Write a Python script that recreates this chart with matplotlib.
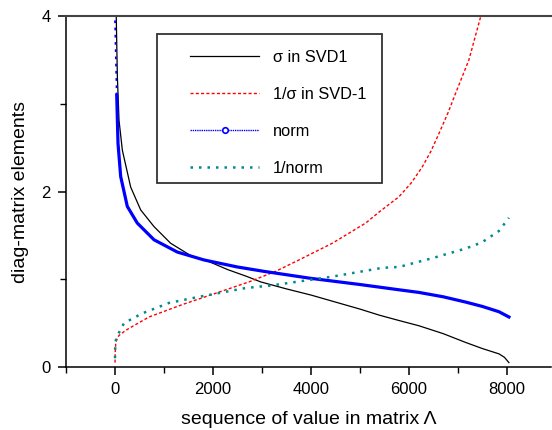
import matplotlib
matplotlib.use("Agg")
import matplotlib.pyplot as plt
from matplotlib.lines import Line2D
from matplotlib.patches import Rectangle
from matplotlib.ticker import MultipleLocator

plt.rcParams['font.family'] = ['Liberation Sans', 'DejaVu Sans']

# sigma in SVD1 (black)
sig_x = [25, 48, 82, 150, 320, 524, 796, 1136, 1544, 1880, 2300, 2700, 2973, 3500,
         4000, 4500, 5000, 5400, 5796, 6204, 6700, 7157, 7500, 7837, 7950, 8041]
sig_y = [4.0, 3.31, 2.81, 2.47, 2.05, 1.79, 1.60, 1.41, 1.27, 1.21, 1.11, 1.03, 0.97, 0.89,
         0.82, 0.74, 0.66, 0.59, 0.53, 0.47, 0.38, 0.28, 0.21, 0.15, 0.11, 0.05]

# 1/sigma in SVD-1 (red)
inv_x = [0, 5, 15, 40, 82, 200, 286, 694, 1367, 2054, 2735, 3279, 3755, 4435, 5116,
         5400, 5796, 6050, 6272, 6450, 6612, 6800, 6953, 7224, 7463, 7560]
inv_y = [0.05, 0.18, 0.27, 0.32, 0.36, 0.41, 0.44, 0.57, 0.71, 0.84, 0.97, 1.09, 1.22, 1.41, 1.64,
         1.77, 1.94, 2.10, 2.28, 2.46, 2.66, 2.90, 3.12, 3.50, 3.99, 4.2]

# norm (blue)
norm_x = [0, 35, 61, 116, 251, 455, 796, 1272, 1816, 2496, 3040, 4000, 5000, 5796,
          6204, 6700, 7157, 7500, 7837, 8041]
norm_y = [3.95, 3.10, 2.55, 2.17, 1.83, 1.64, 1.45, 1.31, 1.22, 1.14, 1.09, 1.01, 0.94, 0.88,
          0.85, 0.80, 0.74, 0.69, 0.63, 0.57]

# 1/norm (teal)
rnorm_x = [0, 5, 15, 41, 184, 551, 1102, 1714, 2667, 3204, 4435, 5455, 5796, 6476,
           7157, 7490, 7837, 8041]
rnorm_y = [0.10, 0.25, 0.30, 0.35, 0.50, 0.61, 0.73, 0.80, 0.90, 0.93, 1.03, 1.13, 1.14, 1.24,
           1.35, 1.42, 1.55, 1.70]

labels = ['σ in SVD1', '1/σ in SVD-1', 'norm', '1/norm']

fig = plt.figure(figsize=(5.52, 4.30), dpi=100)
ax = fig.add_axes([0.1196, 0.1465, 0.8786, 0.8163])

red_ls = (0, (2.2, 1.6))
teal_ls = (0, (1, 2.4))
teal = '#008b8b'

ax.plot(sig_x, sig_y, color='black', lw=0.9)
ax.plot(inv_x, inv_y, color='red', lw=1.0, linestyle=red_ls)
ax.plot(norm_x[:2], norm_y[:2], color='blue', lw=1.3, linestyle=(0, (1.5, 2.5)))
ax.plot(norm_x[1:], norm_y[1:], color='blue', lw=2.3)
ax.plot(rnorm_x, rnorm_y, color=teal, lw=1.8, linestyle=teal_ls)

ax.set_xlim(-1000, 8900)
ax.set_ylim(0, 4)
ax.xaxis.set_major_locator(MultipleLocator(2000))
ax.xaxis.set_minor_locator(MultipleLocator(1000))
ax.yaxis.set_major_locator(MultipleLocator(2))
ax.yaxis.set_minor_locator(MultipleLocator(1))
ax.tick_params(which='major', direction='out', length=6, width=1.1, labelsize=12, pad=5)
ax.tick_params(which='minor', direction='out', length=4, width=1.0)
ax.spines['right'].set_visible(False)
ax.spines['top'].set_color('#444444')
ax.spines['top'].set_linewidth(1.5)
for s in ['left', 'bottom']:
    ax.spines[s].set_linewidth(1.1)

ax.set_xlabel('sequence of value in matrix Λ', fontsize=14, labelpad=10)
ax.set_ylabel('diag-matrix elements', fontsize=14, labelpad=9)

# legend box
ax.add_patch(Rectangle((0.1872, 0.524), 0.465, 0.4247, transform=ax.transAxes,
                       facecolor='white', edgecolor='#333333', lw=1.3, zorder=4))

handles = [
    Line2D([], [], color='black', lw=0.9),
    Line2D([], [], color='red', lw=1.0, linestyle=red_ls),
    Line2D([], [], color='blue', lw=1.0, linestyle=(0, (1, 0.6)), marker='o', markersize=4,
           markerfacecolor='white', markeredgecolor='blue', markeredgewidth=1.2),
    Line2D([], [], color=teal, lw=1.8, linestyle=teal_ls),
]
leg = ax.legend(handles, labels, loc='upper left', bbox_to_anchor=(0.2551, 0.904),
                borderaxespad=0, borderpad=0, fontsize=11.8, frameon=False,
                handlelength=4.25, handletextpad=0.82, labelspacing=1.34, numpoints=1)
leg.set_zorder(5)

fig.savefig('out.png', dpi=100)
